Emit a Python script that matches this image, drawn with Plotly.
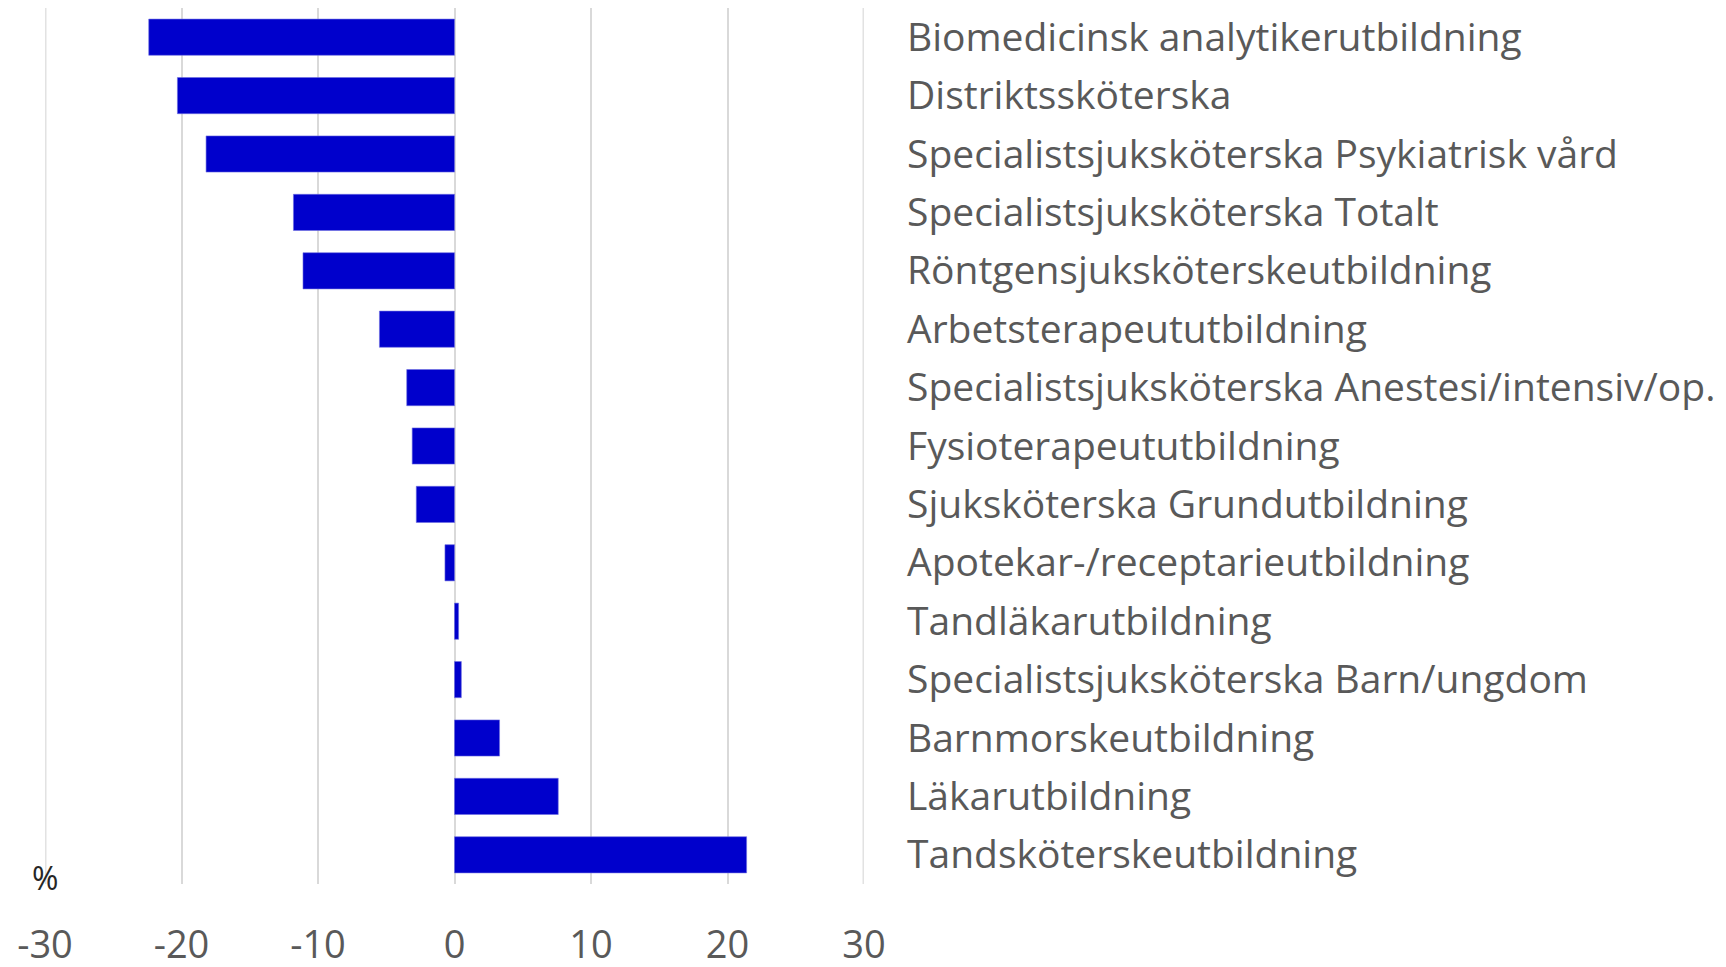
import plotly.graph_objects as go

# kategorier uppifrån och ned
utbildningar = [
    "Biomedicinsk analytikerutbildning",
    "Distriktssköterska",
    "Specialistsjuksköterska Psykiatrisk vård",
    "Specialistsjuksköterska Totalt",
    "Röntgensjuksköterskeutbildning",
    "Arbetsterapeututbildning",
    "Specialistsjuksköterska Anestesi/intensiv/op.",
    "Fysioterapeututbildning",
    "Sjuksköterska Grundutbildning",
    "Apotekar-/receptarieutbildning",
    "Tandläkarutbildning",
    "Specialistsjuksköterska Barn/ungdom",
    "Barnmorskeutbildning",
    "Läkarutbildning",
    "Tandsköterskeutbildning",
]
forandring = [-22.4, -20.3, -18.2, -11.8, -11.1, -5.5, -3.5, -3.1, -2.8, -0.7, 0.3, 0.5, 3.3, 7.6, 21.4]

x_ticks = [-30, -20, -10, 0, 10, 20, 30]
x_ticktext = ["-30", "-20", "-10", "0", "10", "20", "30"]

grey = "#595959"
gridgrey = "#d9d9d9"
font_family = "Open Sans"

fig = go.Figure()
fig.add_trace(go.Bar(
    x=forandring,
    y=utbildningar,
    orientation="h",
    marker=dict(color="#0000CC", line=dict(color="#6f6fe0", width=0.6)),
    width=0.62,
))

# ytterkanterna (-30 och 30) ritas inte som rutnät av plotly
for xv in (x_ticks[0], x_ticks[-1]):
    fig.add_shape(type="line", xref="x", yref="paper", x0=xv, x1=xv, y0=0, y1=1,
                  line=dict(color="#e2e2e2", width=3), layer="below")

# sidan har 8 px marginal i body, därför 1710 x 951
fig.update_layout(
    width=1710,
    height=951,
    paper_bgcolor="white",
    plot_bgcolor="white",
    showlegend=False,
    margin=dict(l=37, r=854, t=0, b=75),
    font=dict(family=font_family, color=grey),
    annotations=[dict(
        text="%", x=-30, xref="x", y=0, yref="paper",
        xanchor="center", yanchor="middle", yshift=7, showarrow=False,
        font=dict(size=32, color="#262626", family=font_family),
    )],
)

fig.update_xaxes(
    range=[-30, 30],
    tickvals=x_ticks,
    ticktext=x_ticktext,
    showgrid=True,
    gridcolor=gridgrey,
    gridwidth=2,
    zeroline=False,
    showline=False,
    ticks="",
    automargin=False,
    ticklabelstandoff=35,
    tickfont=dict(size=38, color=grey),
)

fig.update_yaxes(
    autorange="reversed",
    side="right",
    showgrid=False,
    zeroline=False,
    showline=False,
    ticks="",
    automargin=False,
    ticklabelstandoff=42,
    tickfont=dict(size=39, color=grey),
)

fig.write_html("out.html")
